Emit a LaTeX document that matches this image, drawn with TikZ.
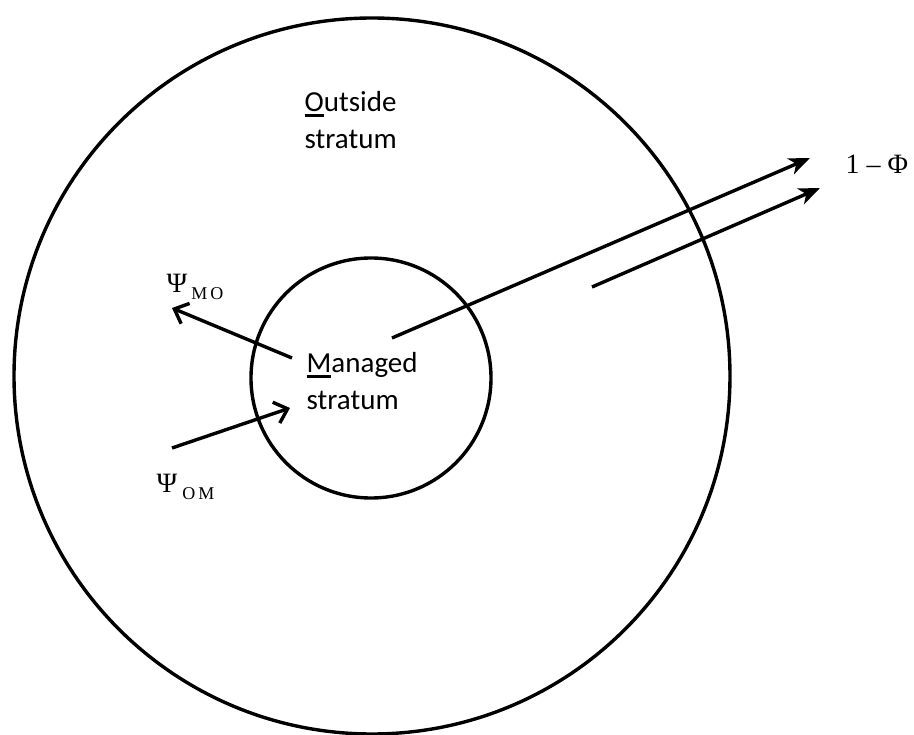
\documentclass[tikz,border=0pt]{standalone}
\usepackage{fontspec}
\setmainfont{Liberation Serif}
\newfontfamily\labelfont{Carlito}
\usetikzlibrary{arrows.meta}

% first letter underlined, as in the stratum names
\newcommand{\firstul}[1]{\setbox0\hbox{#1}\rlap{\rule[-5pt]{\wd0}{2.5pt}}#1}

\tikzset{
  stratum/.style={circle,draw,inner sep=0pt},
  stratumname/.style={font=\labelfont\fontsize{29}{37}\selectfont,align=left,inner sep=0pt,anchor=base west},
  rate/.style={font=\fontsize{28}{32}\selectfont,inner sep=0pt,anchor=base west},
  barbarrow/.style={-{Straight Barb[length=12pt,width=22pt]}},
  exitarrow/.style={-{Stealth[length=21pt,width=17pt,inset=6pt]}}
}

\begin{document}
\begin{tikzpicture}[x=1pt,y=-1pt,line width=3.4pt]
  \useasboundingbox (0,0) rectangle (914,735);

  % strata
  \node[stratum,minimum size=716pt] (outside) at (372,376) {};
  \node[stratum,minimum size=240pt] (managed) at (371,378) {};
  \node[stratumname] (outsidename) at (303,149) {\firstul{O}utside\\stratum};
  \node[stratumname] (managedname) at (305,410) {\firstul{M}anaged\\stratum};

  % movement rates
  \node[rate] (psimo) at (165,293) {Ψ\hspace{4pt}\raisebox{-7pt}{\fontsize{18}{18}\selectfont M\,O}};
  \node[rate] (psiom) at (155,493) {Ψ\hspace{5pt}\raisebox{-7pt}{\fontsize{18}{18}\selectfont O\,M}};
  \node[rate] (phi) at (844,174) {1 – Φ};

  \coordinate (motail) at (292,358);
  \coordinate (mohead) at (172,308);
  \coordinate (omtail) at (172,448);
  \coordinate (omhead) at (290,408);
  \coordinate (exittail) at (392,338);
  \coordinate (exithead) at (810,158);
  \coordinate (losstail) at (592,287);
  \coordinate (losshead) at (820,188);

  \draw[barbarrow] (motail) -- (mohead);
  \draw[barbarrow] (omtail) -- (omhead);
  \draw[exitarrow] (exittail) -- (exithead);
  \draw[exitarrow] (losstail) -- (losshead);
\end{tikzpicture}
\end{document}
